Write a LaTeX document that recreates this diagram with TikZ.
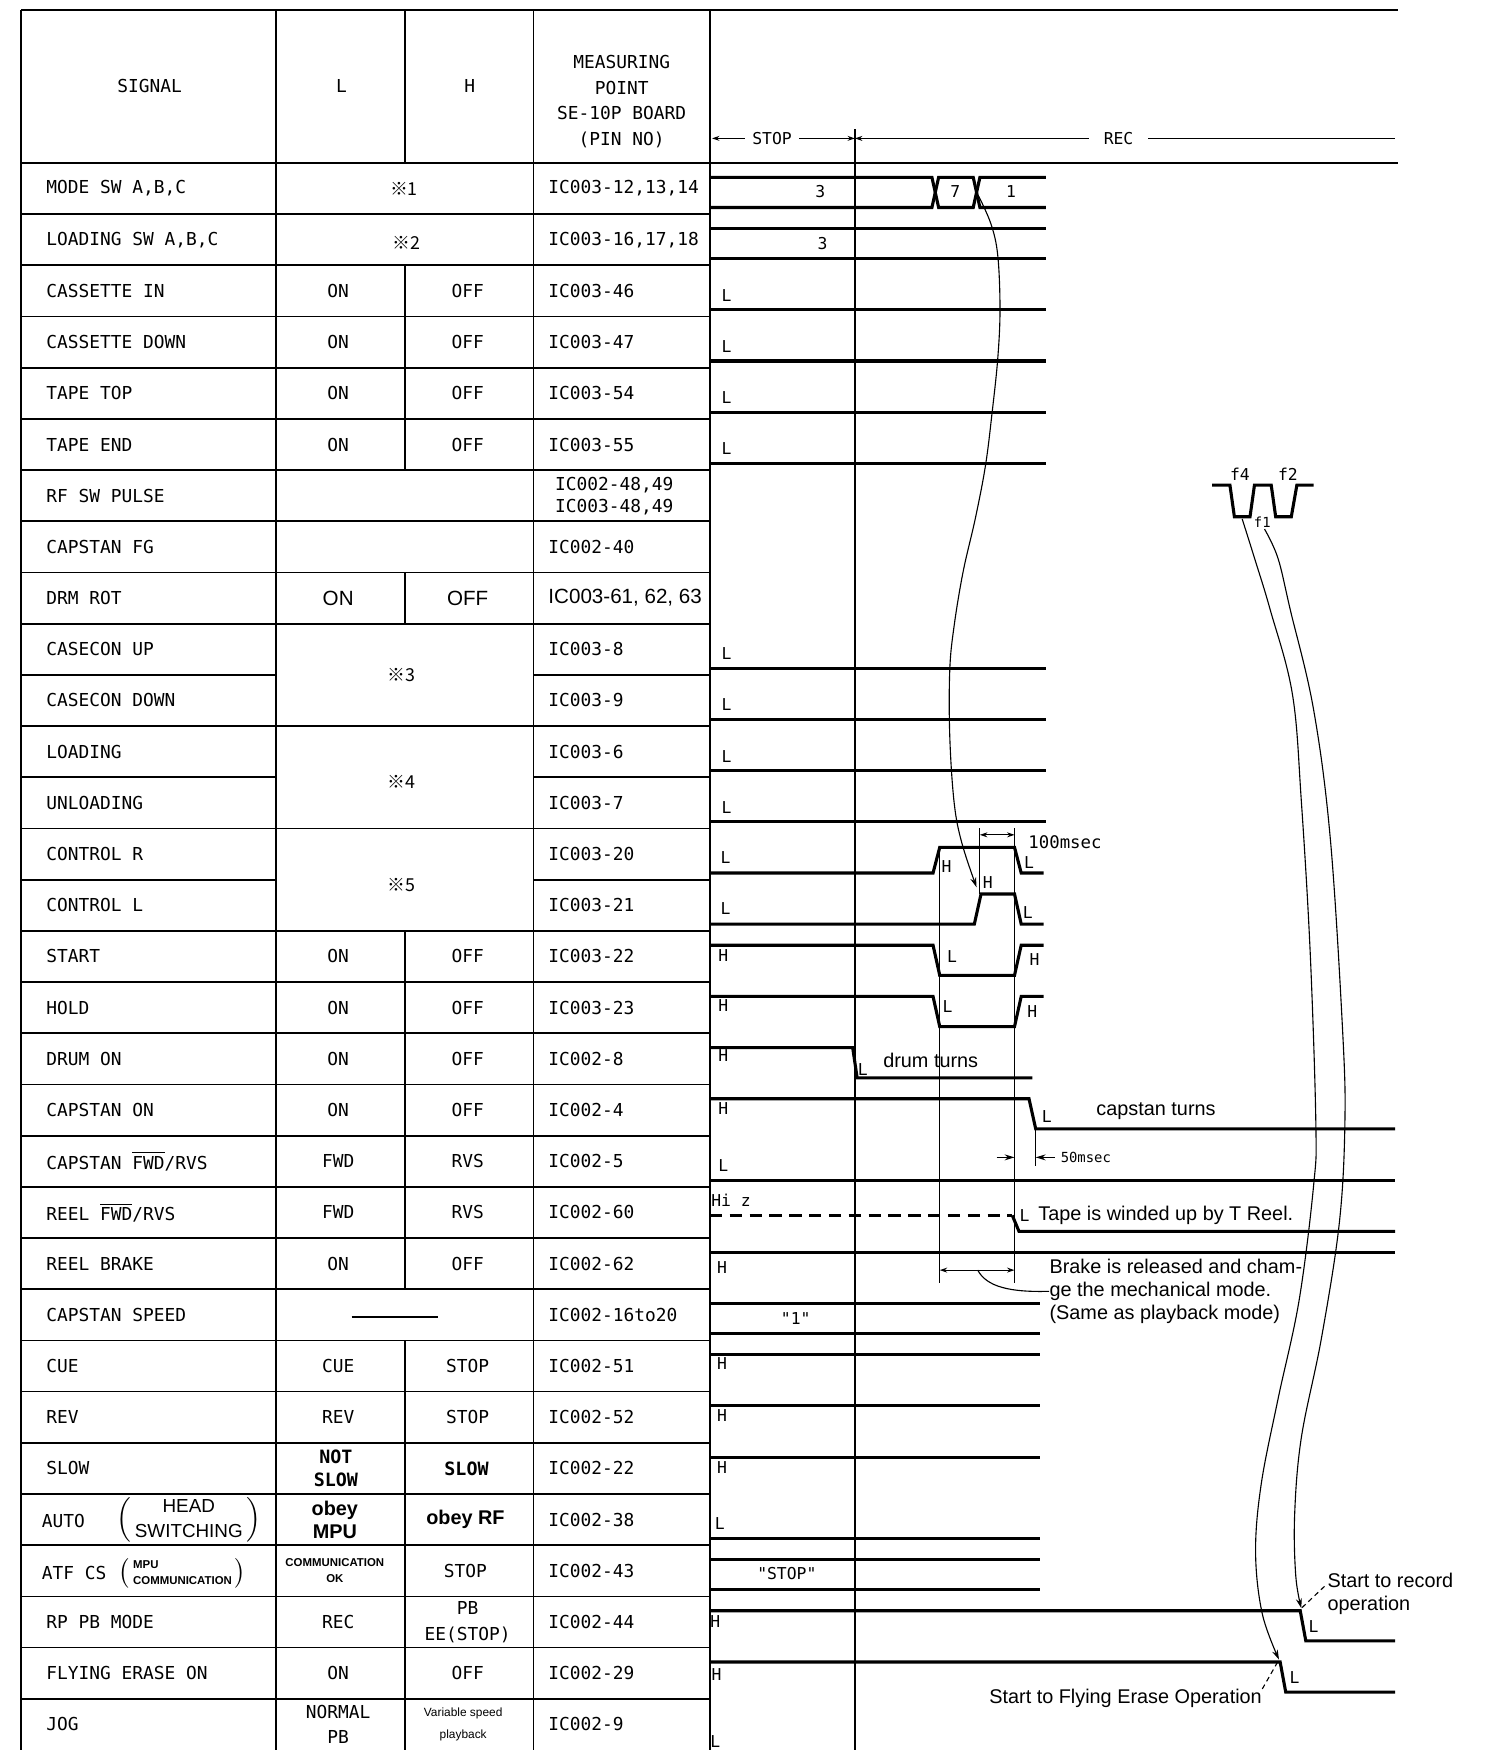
\documentclass[tikz,border=0pt]{standalone}
\usepackage{fontspec}
\setmainfont{Liberation Sans}
\newfontfamily\tabfont{DejaVu Sans Mono}
\newfontfamily\cjkfont{Noto Sans CJK JP}
\usetikzlibrary{arrows.meta}

\tikzset{
  grid/.style={line width=0.7pt},
  wave/.style={line width=1.25pt},
  guide/.style={line width=0.45pt},
  sig/.style={font=\tabfont\fontsize{7.2}{8.8}\selectfont, anchor=west, inner sep=0pt},
  cell/.style={font=\tabfont\fontsize{7.2}{10.3}\selectfont, align=center, inner sep=0pt},
  sanscell/.style={font=\fontsize{8.3}{9.6}\selectfont, align=center, inner sep=0pt},
  tinycell/.style={font=\fontsize{4.6}{6.4}\selectfont\bfseries, align=center, inner sep=0pt},
  lvl/.style={font=\tabfont\fontsize{6.6}{8}\selectfont, inner sep=0pt},
  note/.style={font=\fontsize{8}{9.2}\selectfont, anchor=west, inner sep=0pt, align=left},
  dim/.style={guide, {Stealth[length=3pt,width=2pt]}-{Stealth[length=3pt,width=2pt]}},
  link/.style={guide, -{Stealth[length=4pt,width=2.4pt]}},
}

\begin{document}
\begin{tikzpicture}[x=0.45pt,y=-0.45pt]
\useasboundingbox (0,0) rectangle (1336,1568);

% table frame
\draw[grid] (19,9) -- (1253,9);
\draw[grid] (19,146) -- (1253,146);
\foreach \x in {19,247,478,636} \draw[grid] (\x,9) -- (\x,1568);
\draw[grid] (363,9) -- (363,146);
\foreach \rw in {2,3,4,5,8,15,16,17,18,19,20,21,23,24,25,26,27,28,29,30}
  \draw[grid] (363,{146+45.87*\rw}) -- (363,{146+45.87*(\rw+1)});
\foreach \rw in {1,2,3,4,5,6,7,8,9,11,13,15,16,17,...,30}
  \draw[grid] (19,{146+45.87*\rw}) -- (636,{146+45.87*\rw});
\foreach \rw in {10,12,14}
  \draw[grid] (19,{146+45.87*\rw}) -- (247,{146+45.87*\rw}) (478,{146+45.87*\rw}) -- (636,{146+45.87*\rw});

% header
\node[cell] (hsig) at (134,77) {SIGNAL};
\node[cell] (hl) at (306,77) {L};
\node[cell] (hh) at (421,77) {H};
\node[cell] (hmp) at (557,91) {MEASURING\\POINT\\SE-10P BOARD\\(PIN NO)};

% signal names
\foreach \rw/\nm in {0/{MODE SW A,B,C},1/{LOADING SW A,B,C},2/CASSETTE IN,3/CASSETTE DOWN,4/TAPE TOP,5/TAPE END,6/RF SW PULSE,7/CAPSTAN FG,8/DRM ROT,9/CASECON UP,10/CASECON DOWN,11/LOADING,12/UNLOADING,13/CONTROL R,14/CONTROL L,15/START,16/HOLD,17/DRUM ON,18/CAPSTAN ON,21/REEL BRAKE,22/CAPSTAN SPEED,23/CUE,24/REV,25/SLOW,28/RP PB MODE,29/FLYING ERASE ON,30/JOG}
  \node[sig] (sig\rw) at (41,{146+45.87*(\rw+0.5)}) {\nm};
\node[sig] (sig19) at (41,{146+45.87*19.5}) {CAPSTAN $\overline{\hbox{FWD}}$/RVS};
\node[sig] (sig20) at (41,{146+45.87*20.5}) {REEL $\overline{\hbox{FWD}}$/RVS};
\node[sig] (sig26) at (37,1363) {AUTO};
\node[anchor=west, inner sep=0pt, font=\fontsize{7.6}{9.6}\selectfont] (sig26b) at (104,1362)
  {$\left(\,\hbox{\begin{tabular}{@{}c@{}}HEAD\\[0.5pt]SWITCHING\end{tabular}}\,\right)$};
\node[sig] (sig27) at (37,1409) {ATF CS};
\node[anchor=west, inner sep=0pt, font=\fontsize{4.6}{6.4}\selectfont\bfseries] (sig27b) at (106,1410)
  {$\left(\,\hbox{\begin{tabular}{@{}l@{}}MPU\\COMMUNICATION\end{tabular}}\,\right)$};

% L / H columns
\foreach \rw/\lv/\hv in {2/ON/OFF,3/ON/OFF,4/ON/OFF,5/ON/OFF,15/ON/OFF,16/ON/OFF,17/ON/OFF,18/ON/OFF,19/FWD/RVS,20/FWD/RVS,21/ON/OFF,23/CUE/STOP,24/REV/STOP,28/REC/{PB\\EE(STOP)},29/ON/OFF,30/{NORMAL\\PB}/}
  {\node[cell] (lc\rw) at (303,{146+45.87*(\rw+0.5)}) {\lv};
   \node[cell] (hc\rw) at (419,{146+45.87*(\rw+0.5)}) {\hv};}
\node[sanscell] (lc8) at (303,{146+45.87*8.5}) {ON};
\node[sanscell] (hc8) at (419,{146+45.87*8.5}) {OFF};
\node[cell, font=\tabfont\fontsize{7.4}{9.4}\selectfont\bfseries] (lc25) at (301,{146+45.87*25.5}) {NOT\\SLOW};
\node[cell, font=\tabfont\fontsize{7.4}{9.4}\selectfont\bfseries] (hc25) at (418,{146+45.87*25.5}) {SLOW};
\node[sanscell, font=\fontsize{8}{9.2}\selectfont\bfseries] (lc26) at (300,{146+45.87*26.5}) {obey\\MPU};
\node[sanscell, font=\fontsize{8}{9.2}\selectfont\bfseries] (hc26) at (417,{146+45.87*26.5}) {obey RF};
\node[tinycell] (lc27) at (300,{146+45.87*27.5}) {COMMUNICATION\\OK};
\node[cell] (hc27) at (417,{146+45.87*27.5}) {STOP};
\node[tinycell, font=\fontsize{4.8}{9}\selectfont] (hc30) at (415,{146+45.87*30.5}) {Variable speed\\playback};
\node[cell, font=\cjkfont\fontsize{7.2}{9}\selectfont] (m1) at (362,169) {※1};
\node[cell, font=\cjkfont\fontsize{7.2}{9}\selectfont] (m2) at (364,218) {※2};
\node[cell, font=\cjkfont\fontsize{7.2}{9}\selectfont] (m3) at (360,605) {※3};
\node[cell, font=\cjkfont\fontsize{7.2}{9}\selectfont] (m4) at (360,701) {※4};
\node[cell, font=\cjkfont\fontsize{7.2}{9}\selectfont] (m5) at (360,793) {※5};
\draw[grid] (315,1180) -- (392,1180);

% measuring points
\foreach \rw/\pin in {0/{IC003-12,13,14},1/{IC003-16,17,18},2/IC003-46,3/IC003-47,4/IC003-54,5/IC003-55,7/IC002-40,9/IC003-8,10/IC003-9,11/IC003-6,12/IC003-7,13/IC003-20,14/IC003-21,15/IC003-22,16/IC003-23,17/IC002-8,18/IC002-4,19/IC002-5,20/IC002-60,21/IC002-62,22/IC002-16to20,23/IC002-51,24/IC002-52,25/IC002-22,26/IC002-38,27/IC002-43,28/IC002-44,29/IC002-29,30/IC002-9}
  \node[sig] (pin\rw) at (491,{146+45.87*(\rw+0.5)}) {\pin};
\node[sig, align=left] (pin6) at (497,{146+45.87*6.5}) {IC002-48,49\\IC003-48,49};
\node[sanscell, anchor=west] (pin8) at (491,{146+45.87*8.5}) {IC003-61, 62, 63};

% STOP / REC
\coordinate (ta) at (638,124);
\coordinate (tb) at (766,124);
\coordinate (tc) at (1250,124);
\draw[dim] (ta) -- node[pos=0.42, fill=white, lvl, inner xsep=3pt] (stop) {STOP} (tb);
\draw[guide, {Stealth[length=3pt,width=2pt]}-] (tb) -- node[pos=0.488, fill=white, lvl, inner xsep=6pt] (rec) {REC} (tc);
\draw[line width=0.6pt] (766,116) -- (766,1568);

% mode switches
\draw[wave] (636,158.9) -- (835,158.9) -- (841,185.9) -- (872,185.9) -- (878,158.9) -- (937,158.9);
\draw[wave] (636,185.9) -- (835,185.9) -- (841,158.9) -- (872,158.9) -- (878,185.9) -- (937,185.9);
\draw[wave] (636,204.7) -- (937,204.7) (636,231.7) -- (937,231.7);
\node[lvl] (v0a) at (735,172) {3};
\node[lvl] (v0b) at (856,172) {7};
\node[lvl] (v0c) at (906,172) {1};
\node[lvl] (v1a) at (737,218) {3};

% plain low lines
\foreach \rw in {2,3,4,5,9,10,11,12}{
  \draw[wave] (636,{146+45.87*(\rw+1)-6}) -- (937,{146+45.87*(\rw+1)-6});
  \node[lvl] (lv\rw) at (651,{146+45.87*(\rw+1)-19}) {L};
}

% control / start / hold
\draw[wave] (636,782.2) -- (836,782.2) -- (842,759.2) -- (909,759.2) -- (915,782.2) -- (935,782.2);
\draw[wave] (636,828) -- (873,828) -- (879,801) -- (909,801) -- (915,828) -- (935,828);
\draw[wave] (636,846.9) -- (836,846.9) -- (842,873.9) -- (909,873.9) -- (915,846.9) -- (935,846.9);
\draw[wave] (636,892.8) -- (836,892.8) -- (842,919.8) -- (909,919.8) -- (915,892.8) -- (935,892.8);
\node[lvl] (lv13) at (650,768) {L};
\node[lvl] (lv13b) at (848,776) {H};
\node[lvl] (lv13c) at (922,773) {L};
\node[lvl] (lv14) at (650,814) {L};
\node[lvl] (lv14b) at (885,791) {H};
\node[lvl] (lv14c) at (921,818) {L};
\node[lvl] (lv15) at (648,856) {H};
\node[lvl] (lv15b) at (853,857) {L};
\node[lvl] (lv15c) at (927,860) {H};
\node[lvl] (lv16) at (648,901) {H};
\node[lvl] (lv16b) at (849,902) {L};
\node[lvl] (lv16c) at (925,906) {H};

% drum / capstan / reel
\draw[wave] (636,938.7) -- (764,938.7) -- (768,965.7) -- (925,965.7);
\draw[wave] (636,984.5) -- (922,984.5) -- (928,1011.5) -- (1250,1011.5);
\draw[wave] (636,1057.4) -- (1250,1057.4);
\draw[wave, dash pattern=on 5pt off 3pt] (636,1089) -- (907,1089);
\draw[wave] (907,1089) -- (913,1103.3) -- (1250,1103.3);
\draw[wave] (636,1122.1) -- (1250,1122.1);
\node[lvl] (lv17) at (648,946) {H};
\node[lvl] (lv17b) at (773,958) {L};
\node[lvl] (lv18) at (648,993) {H};
\node[lvl] (lv18b) at (938,1000) {L};
\node[lvl] (lv19) at (648,1044) {L};
\node[lvl] (lv20) at (655,1075) {Hi z};
\node[lvl] (lv20b) at (918,1089) {L};
\node[lvl] (lv21) at (647,1136) {H};
\node[note] (drum) at (791,950) {drum turns};
\node[note] (capst) at (982,996) {capstan turns};
\node[note] (tape) at (930,1089) {Tape is winded up by T Reel.};

% timing guides
\draw[guide] (842,759) -- (842,1150);
\draw[guide] (909,742) -- (909,1150);
\draw[guide] (878,742) -- (878,801);
\draw[guide] (928,1011) -- (928,1045);
\draw[dim] (878,748) -- (909,748);
\node[lvl, anchor=west, font=\tabfont\fontsize{7}{8}\selectfont] (ms100) at (921,755) {100msec};
\draw[link] (893,1037) -- (909,1037);
\draw[link] (945,1037) -- (928,1037);
\node[lvl, anchor=west, font=\tabfont\fontsize{5.6}{7}\selectfont] (ms50) at (950,1037) {50msec};
\coordinate (bkl) at (842,1138);
\coordinate (bkr) at (909,1138);
\draw[dim] (bkl) -- (bkr);
\coordinate (bkmid) at (876,1138);
\node[note] (brake) at (940,1157) {Brake is released and cham-\\ge the mechanical mode.\\(Same as playback mode)};
\draw[guide] (bkmid) .. controls (884,1153) and (905,1158) .. (brake.west);

% lower rows
\draw[wave] (636,1168) -- (932,1168) (636,1195) -- (932,1195);
\node[lvl] (v22) at (713,1181) {"1"};
\draw[wave] (636,1213.9) -- (932,1213.9);
\draw[wave] (636,1259.7) -- (932,1259.7);
\draw[wave] (636,1305.6) -- (932,1305.6);
\draw[wave] (636,1378.5) -- (932,1378.5);
\draw[wave] (636,1397.3) -- (932,1397.3) (636,1424.3) -- (932,1424.3);
\node[lvl] (v27) at (705,1410) {"STOP"};
\node[lvl] (lv23) at (647,1222) {H};
\node[lvl] (lv24) at (647,1268) {H};
\node[lvl] (lv25) at (647,1315) {H};
\node[lvl] (lv26) at (645,1365) {L};
\draw[wave] (636,1443.2) -- (1165,1443.2) -- (1170,1470.2) -- (1250,1470.2);
\draw[wave] (636,1489.1) -- (1147,1489.1) -- (1152,1516.1) -- (1250,1516.1);
\node[lvl] (lv28) at (641,1453) {H};
\node[lvl] (lv28b) at (1177,1457) {L};
\node[lvl] (lv29) at (642,1500) {H};
\node[lvl] (lv29b) at (1160,1503) {L};
\node[lvl] (lv30) at (641,1560) {L};

% RF switching pulse
\draw[wave] (1086,434.6) -- (1102,434.6) -- (1106,463) -- (1120,463) -- (1124,434.6) -- (1139,434.6)
  -- (1143,463) -- (1157,463) -- (1162,434.6) -- (1177,434.6);
\node[lvl] (f4) at (1111,425) {f4};
\node[lvl] (f2) at (1154,425) {f2};
\node[lvl, font=\tabfont\fontsize{5.6}{7}\selectfont] (f1) at (1131,468) {f1};

% curved links
\coordinate (modeX) at (877,176);
\coordinate (ctlL) at (875,795);
\draw[link] plot[smooth, tension=0.6] coordinates {(modeX) (888,201) (894,229) (896,277) (894,321) (889,369)
  (883,417) (874,464) (863,512) (855,560) (851,600) (851,660) (855,720) (862,756) (ctlL)};
\coordinate (f1a) at (1113,465);
\coordinate (f1b) at (1133,474);
\coordinate (fedrop) at (1146,1487);
\coordinate (rpdrop) at (1166,1441);
\draw[link] plot[smooth, tension=0.6] coordinates {(f1a) (1124,500) (1138,546) (1158,622) (1166,718)
  (1174,855) (1179,1007) (1177,1062) (1164,1165) (1145,1254) (1130,1330) (1125,1391) (1131,1446) (fedrop)};
\draw[link] plot[smooth, tension=0.6] coordinates {(f1b) (1145,500) (1156,546) (1177,636) (1192,752)
  (1203,924) (1205,1007) (1200,1096) (1184,1199) (1166,1288) (1160,1357) (1161,1412) (rpdrop)};
\node[note] (recnote) at (1189,1428) {Start to record\\operation};
\draw[guide, dash pattern=on 2pt off 1.5pt] ([xshift=-1pt,yshift=3pt]recnote.west) -- (rpdrop);
\node[note, anchor=east] (fenote) at (1131,1522) {Start to Flying Erase Operation};
\draw[guide, dash pattern=on 2pt off 1.5pt] (fenote.north east) -- (fedrop);
\end{tikzpicture}
\end{document}
